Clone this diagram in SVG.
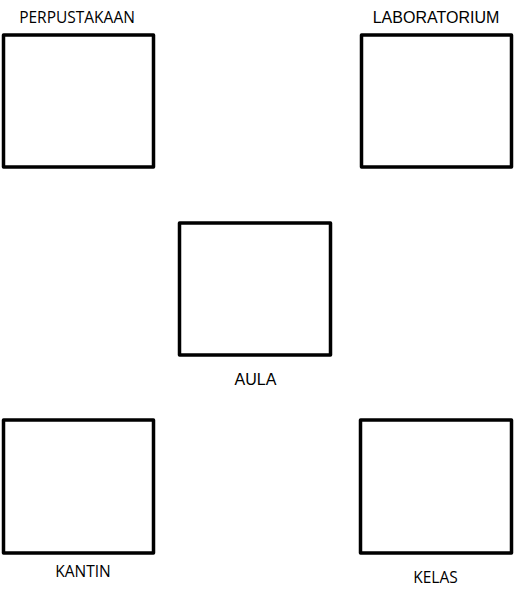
<svg xmlns="http://www.w3.org/2000/svg" width="514" height="598" viewBox="0 0 514 598">
<style>
.box{fill:#fff;stroke:#000;stroke-width:3.5;stroke-linejoin:round}
.a{font-family:"Open Sans","Noto Sans",sans-serif;font-size:15.5px;fill:#000;text-anchor:middle}
.b{font-family:"Liberation Sans",Arial,sans-serif;font-size:16px;fill:#000;text-anchor:middle}
</style>
<rect width="514" height="598" fill="#fff"/>
<g id="perpustakaan">
<rect class="box" x="3.5" y="35" width="150" height="132"/>
<text class="a" x="77" y="23">PERPUSTAKAAN</text>
</g>
<g id="laboratorium">
<rect class="box" x="361.5" y="35" width="150" height="132"/>
<text class="b" x="436" y="23">LABORATORIUM</text>
</g>
<g id="aula">
<rect class="box" x="179.5" y="223" width="151" height="132"/>
<text class="b" x="255.5" y="385">AULA</text>
</g>
<g id="kantin">
<rect class="box" x="3.5" y="420" width="150" height="133"/>
<text class="a" x="83" y="577">KANTIN</text>
</g>
<g id="kelas">
<rect class="box" x="360.5" y="420" width="151" height="133"/>
<text class="a" x="435.5" y="583">KELAS</text>
</g>
<g id="connectors"/>
</svg>
